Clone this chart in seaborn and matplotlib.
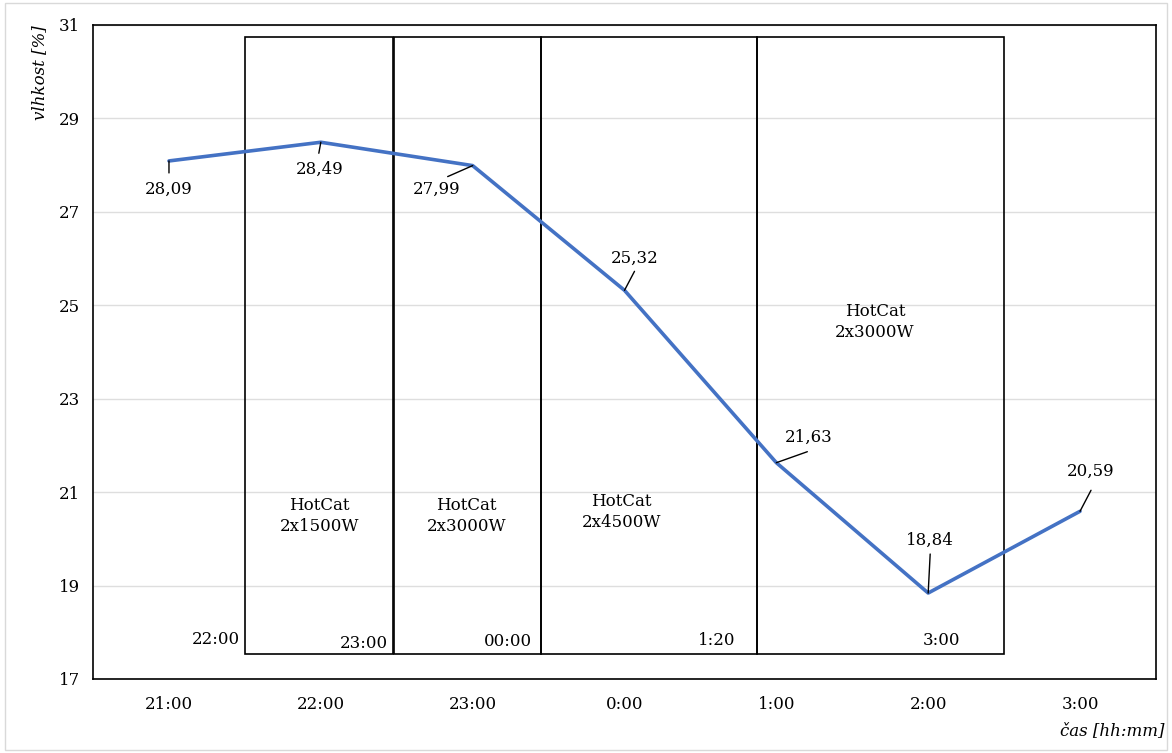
import matplotlib
matplotlib.use("Agg")
import matplotlib.pyplot as plt
import seaborn as sns
import pandas as pd
from matplotlib.patches import Rectangle

casy = ["21:00", "22:00", "23:00", "0:00", "1:00", "2:00", "3:00"]
vlhkost = [28.09, 28.49, 27.99, 25.32, 21.63, 18.84, 20.59]
popisky = ["28,09", "28,49", "27,99", "25,32", "21,63", "18,84", "20,59"]

# useky ohrevu (zacatek, konec na ose x) a jejich texty
useky_od = [0.5, 1.48, 2.45, 3.87]
useky_do = [1.475, 2.45, 3.87, 5.497]
useky_text = ["HotCat\n2x1500W", "HotCat\n2x3000W", "HotCat\n2x4500W", "HotCat\n2x3000W"]
useky_cas = ["23:00", "00:00", "1:20", "3:00"]

df = pd.DataFrame({"x": range(len(casy)), "vlhkost": vlhkost})

sns.set_style("white")
plt.rcParams["font.family"] = ["DejaVu Serif"]
plt.rcParams["font.size"] = 12
plt.rcParams["text.color"] = "black"
plt.rcParams["xtick.labelcolor"] = "black"
plt.rcParams["ytick.labelcolor"] = "black"

fig = plt.figure(figsize=(11.72, 7.53), dpi=100)
ax = fig.add_axes([0.0794, 0.0983, 0.9069, 0.8685])

ax.set_ylim(17, 31)
ax.set_xlim(-0.5, 6.5)
ax.set_yticks(range(17, 32, 2))
ax.yaxis.grid(True, color="#dedede", lw=1)
ax.set_axisbelow(True)

# obdelniky useku
top, bottom = 30.74, 17.53
for a, b in zip(useky_od, useky_do):
    ax.add_patch(Rectangle((a, bottom), b - a, top - bottom, fill=False,
                           edgecolor="black", lw=1.2, zorder=2))

sns.lineplot(data=df, x="x", y="vlhkost", color="#4472C4", lw=2.6, ax=ax, zorder=3)

# popisky hodnot s odkazovymi carami (posun v pixelech)
offs = [(0, -28), (-1, -27), (-36, -24), (10, 32), (32, 25), (2, 53), (11, 40)]
leader = [(0, -12), (-2, -11), (-25, -11), (10, 19), (31, 11), (2, 39), (11, 21)]
for i, (v, t) in enumerate(zip(vlhkost, popisky)):
    ox, oy = offs[i]
    lx, ly = leader[i]
    ax.annotate("", xy=(i, v), xytext=(lx * 0.72, ly * 0.72), textcoords="offset points",
                arrowprops=dict(arrowstyle="-", color="black", lw=1, shrinkA=0, shrinkB=0),
                zorder=4)
    ax.annotate(t, xy=(i, v), xytext=(ox * 0.72, oy * 0.72), textcoords="offset points",
                ha="center", va="center", fontsize=12, zorder=4)

# texty v usecich
txt_pos = [(0.99, 20.49), (1.96, 20.49), (2.98, 20.58), (4.65, 24.64)]
for (x, y), t in zip(txt_pos, useky_text):
    ax.text(x, y, t, ha="center", va="center", fontsize=12, linespacing=1.3)

ax.text(0.47, 17.835, "22:00", ha="right", va="center", fontsize=12)
cas_pos = [(1.44, 17.77), (2.39, 17.81), (3.73, 17.83), (5.21, 17.83)]
for (x, y), t in zip(cas_pos, useky_cas):
    ax.text(x, y, t, ha="right", va="center", fontsize=12)

# osa x: hlavni ticky na hranicich, popisky ve stredech
ax.set_xticks([i - 0.5 for i in range(len(casy) + 1)])
ax.set_xticklabels([])
ax.set_xticks(range(len(casy)), minor=True)
ax.set_xticklabels(casy, minor=True)
ax.tick_params(axis="x", which="major", direction="out", length=6, width=1.2, color="black")
ax.tick_params(axis="x", which="minor", length=0, pad=12, labelsize=12)
ax.tick_params(axis="y", direction="out", length=6, width=1.2, color="black", labelsize=12)

for s in ax.spines.values():
    s.set_color("black")
    s.set_linewidth(1.2)

ax.set_xlabel("")
ax.set_ylabel("")
fig.text(0.034, 0.966, "vlhkost [%]", rotation=90, ha="center", va="top",
         fontsize=12, style="italic")
fig.text(0.994, 0.03, "čas [hh:mm]", ha="right", va="center", fontsize=12, style="italic")

fig.patches.append(Rectangle((0.004, 0.004), 0.992, 0.992, transform=fig.transFigure,
                             fill=False, edgecolor="#d9d9d9", lw=1))

fig.savefig("out.png", dpi=100)
plt.close(fig)
